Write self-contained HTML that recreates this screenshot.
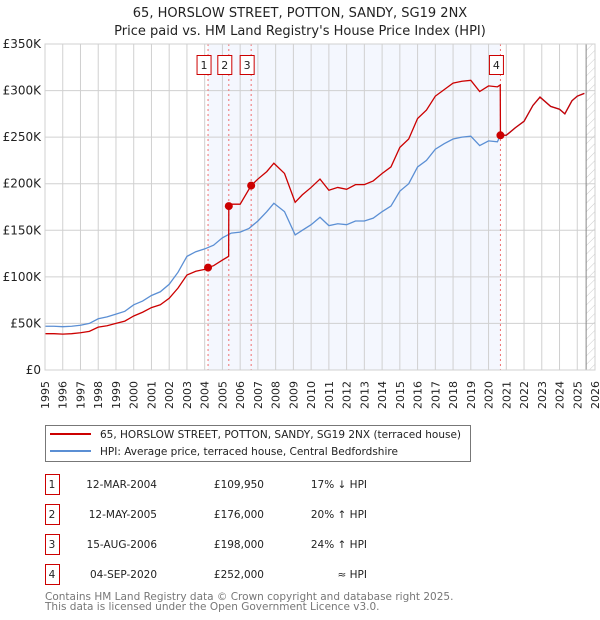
<!DOCTYPE html>
<html><head><meta charset="utf-8"><style>
body{margin:0;background:#fff;width:600px;height:620px;overflow:hidden;font-family:"DejaVu Sans","Liberation Sans",sans-serif;}
svg{display:block}
</style></head><body>
<svg id="c" width="600" height="620" xmlns="http://www.w3.org/2000/svg">
<defs><pattern id="hatch" width="6" height="6" patternUnits="userSpaceOnUse" patternTransform="rotate(45)"><line x1="0" y1="0" x2="0" y2="6" stroke="#ccc" stroke-width="1"/></pattern></defs>
<text x="300" y="17" text-anchor="middle" font-size="13" fill="#222">65, HORSLOW STREET, POTTON, SANDY, SG19 2NX</text>
<text x="300" y="35" text-anchor="middle" font-size="13" fill="#222">Price paid vs. HM Land Registry's House Price Index (HPI)</text>
<g id="plot"></g>
<g>
<rect x="45.5" y="425.5" width="425" height="36" fill="#fff" stroke="#777"/>
<line x1="50" y1="434" x2="91" y2="434" stroke="#cc0000" stroke-width="2"/>
<text x="100" y="438" font-size="10.5" fill="#222">65, HORSLOW STREET, POTTON, SANDY, SG19 2NX (terraced house)</text>
<line x1="50" y1="451" x2="91" y2="451" stroke="#5b8fd4" stroke-width="2"/>
<text x="100" y="455" font-size="10.5" fill="#222">HPI: Average price, terraced house, Central Bedfordshire</text>
</g>
<g id="table" font-size="10.5" fill="#222"></g>
<text x="45" y="600" font-size="10.5" fill="#777">Contains HM Land Registry data © Crown copyright and database right 2025.</text>
<text x="45" y="610" font-size="10.5" fill="#777">This data is licensed under the Open Government Licence v3.0.</text>
</svg>
<script>
const hpiDates=[1995.0,1995.5,1996.0,1996.5,1997.0,1997.5,1998.0,1998.5,1999.0,1999.5,2000.0,2000.5,2001.0,2001.5,2002.0,2002.5,2003.0,2003.5,2004.0,2004.5,2005.0,2005.5,2006.0,2006.5,2007.0,2007.5,2007.9,2008.5,2009.1,2009.5,2010.0,2010.5,2011.0,2011.5,2012.0,2012.5,2013.0,2013.5,2014.0,2014.5,2015.0,2015.5,2016.0,2016.5,2017.0,2017.5,2018.0,2018.5,2019.0,2019.5,2020.0,2020.5,2020.67,2021.0,2021.5,2022.0,2022.5,2022.9,2023.5,2024.0,2024.3,2024.7,2025.0,2025.4];
const hpiValues=[47,47,46.5,47,48,50,55,57,60,63,70,74,80,84,92,105,122,127,130,134,142,147,148,152,160,170,179,170,145,150,156,164,155,157,156,160,160,163,170,176,192,200,218,225,237,243,248,250,251,241,246,245,252,252,260,267,284,293,283,280,275,289,294,297];
const redDates=[1995.0,1995.5,1996.0,1996.5,1997.0,1997.5,1998.0,1998.5,1999.0,1999.5,2000.0,2000.5,2001.0,2001.5,2002.0,2002.5,2003.0,2003.5,2004.0,2004.19,2004.5,2005.0,2005.35,2005.36,2005.5,2006.0,2006.62,2007.0,2007.5,2007.9,2008.5,2009.1,2009.5,2010.0,2010.5,2011.0,2011.5,2012.0,2012.5,2013.0,2013.5,2014.0,2014.5,2015.0,2015.5,2016.0,2016.5,2017.0,2017.5,2018.0,2018.5,2019.0,2019.5,2020.0,2020.5,2020.66,2020.67,2021.0,2021.5,2022.0,2022.5,2022.9,2023.5,2024.0,2024.3,2024.7,2025.0,2025.4];
const redValues=[39,39,38.5,39,40,41.5,46,47.5,50,52.5,58,62,67,70,77,88,102,106,108,110,112,118,122,176,178,178,198,205,213,222,211,180,188,196,205,193,196,194,199,199,203,211,218,239,248,270,279,294,301,308,310,311,299,305,304,306,252,252,260,267,284,293,283,280,275,289,294,297];
const saleDates=[2004.19,2005.36,2006.62,2020.67];
const salePrices=[109.95,176,198,252];
const saleLabels=["1","2","3","4"];
const saleDateText=["12-MAR-2004","12-MAY-2005","15-AUG-2006","04-SEP-2020"];
const salePriceText=["£109,950","£176,000","£198,000","£252,000"];
const saleHpiText=["17% ↓ HPI","20% ↑ HPI","24% ↑ HPI","≈ HPI"];
const yTicks=[0,50,100,150,200,250,300,350];
const yTickLabels=["£0","£50K","£100K","£150K","£200K","£250K","£300K","£350K"];
const xYears=[1995,1996,1997,1998,1999,2000,2001,2002,2003,2004,2005,2006,2007,2008,2009,2010,2011,2012,2013,2014,2015,2016,2017,2018,2019,2020,2021,2022,2023,2024,2025,2026];

const L=45,R=595,T=44,B=370,X0=1995,X1=2026,YMAX=350;
const xs=v=>L+(v-X0)/(X1-X0)*(R-L);
const ys=v=>B-v/YMAX*(B-T);
const NS="http://www.w3.org/2000/svg";
const plot=document.getElementById('plot');
function mk(tag,attrs,parent){const e=document.createElementNS(NS,tag);for(const k in attrs)e.setAttribute(k,attrs[k]);(parent||plot).appendChild(e);return e;}

let e=mk('rect',{x:L,y:T,width:R-L,height:B-T,fill:'#fff'});


e=mk('rect',{x:xs(saleDates[0]),y:T,width:xs(saleDates[3])-xs(saleDates[0]),height:B-T,fill:'#f4f7fe'});


e=mk('rect',{x:xs(2025.5),y:T,width:R-xs(2025.5),height:B-T,fill:'url(#hatch)'});


xYears.forEach(yr=>{
  const x=xs(yr);
  let g=mk('line',{x1:x,y1:T,x2:x,y2:B,stroke:'#d0d0d0','stroke-width':1});
  
  
  let t=mk('text',{x:0,y:0,transform:`translate(${x+4},${B+11}) rotate(-90)`,'text-anchor':'end','font-size':11,fill:'#222'});
  t.textContent=yr;
  
  
});
yTicks.forEach((v,i)=>{
  const y=ys(v);
  let g=mk('line',{x1:L,y1:y,x2:R,y2:y,stroke:'#d0d0d0','stroke-width':1});
  
  
  let t=mk('text',{x:L-4,y:y+4,'text-anchor':'end','font-size':12,fill:'#222'});
  t.textContent=yTickLabels[i];
  
  
});
e=mk('line',{x1:xs(2025.5),y1:T,x2:xs(2025.5),y2:B,stroke:'#888','stroke-width':1});


saleDates.forEach(d=>{
  let l=mk('line',{x1:xs(d),y1:T,x2:xs(d),y2:B,stroke:'#f07070','stroke-width':1,'stroke-dasharray':'2,3'});
  
  
});
e=mk('polyline',{points:hpiDates.map((d,i)=>xs(d)+','+ys(hpiValues[i])).join(' '),fill:'none',stroke:'#5b8fd4','stroke-width':1.3});


e=mk('polyline',{points:redDates.map((d,i)=>xs(d)+','+ys(redValues[i])).join(' '),fill:'none',stroke:'#cc0000','stroke-width':1.3});


saleDates.forEach((d,i)=>{
  let c=mk('circle',{cx:xs(d),cy:ys(salePrices[i]),r:4,fill:'#cc0000'});
  
  
  const bx=xs(d)-11;
  let r=mk('rect',{x:bx,y:55.5,width:14,height:19,fill:'#fff',stroke:'#cc0000','stroke-width':1});
  
  
  let t=mk('text',{x:bx+7,y:69,'text-anchor':'middle','font-size':11,fill:'#222'});
  t.textContent=saleLabels[i];
  
  
});
e=mk('rect',{x:L,y:T,width:R-L,height:B-T,fill:'none',stroke:'#d0d0d0'});



const tbl=document.getElementById('table');
saleLabels.forEach((s,i)=>{
  const cy=483+i*30;
  let r=mk('rect',{x:45.5,y:cy-8.5,width:14,height:20,fill:'#fff',stroke:'#cc0000'},tbl);
  
  
  const cols=[[52,s,'middle'],[157,saleDateText[i],'end'],[264,salePriceText[i],'end'],[367,saleHpiText[i],'end']];
  cols.forEach(([x,txt,a],j)=>{
    let t=mk('text',{x:x,y:cy+5,'text-anchor':a},tbl);
    t.textContent=txt;
    
    
  });
});
</script>
</body></html>
